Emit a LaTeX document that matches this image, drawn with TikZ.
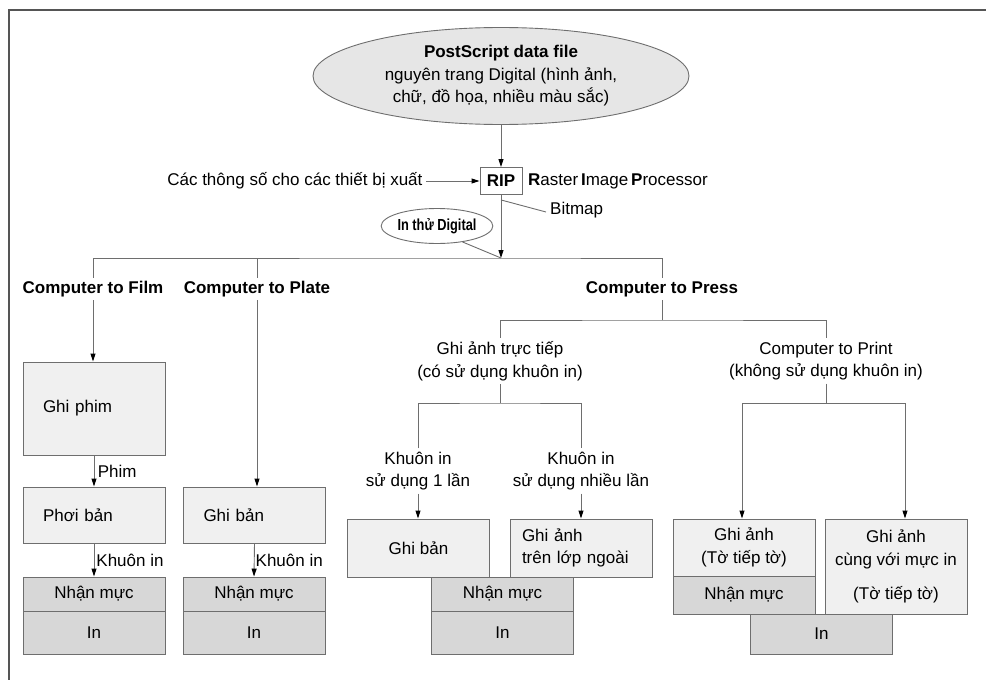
\documentclass[tikz,border=0pt]{standalone}
\usepackage{fontspec}
\setmainfont{Liberation Sans}
\newfontfamily\narrowsans{Liberation Sans}[FakeStretch=0.8]
\usetikzlibrary{arrows.meta,positioning,shapes.geometric}
\definecolor{framegray}{HTML}{555555}
\definecolor{linegray}{HTML}{6E6E6E}
\definecolor{lightfill}{HTML}{F0F0F0}
\definecolor{darkfill}{HTML}{D7D7D7}
\definecolor{ovalfill}{HTML}{E6E6E6}
\newcommand{\diagfont}{\fontsize{17}{22.5}\selectfont}

\tikzset{
  conn/.style={draw=linegray, line width=0.9pt},
  arr/.style={conn, -{Triangle[length=8pt,width=5pt,color=black]}},
  box/.style={draw=linegray, line width=0.9pt, fill=lightfill, minimum width=142pt, inner sep=0pt, align=center},
  lbox/.style={box, text width=102pt, inner xsep=20pt, align=left},
  inkbox/.style={box, fill=darkfill, minimum height=34pt},
  printbox/.style={box, fill=darkfill, minimum height=43pt},
  branch/.style={font=\diagfont\bfseries},
}

\begin{document}
\begin{tikzpicture}[x=1pt, y=-1pt, font=\diagfont]
\useasboundingbox (0,0) rectangle (986,680);
\draw[framegray, line width=2.5pt] (9,680) |- (986,10);

% source and RIP
\node[ellipse, draw=linegray, line width=0.9pt, fill=ovalfill, inner sep=0pt,
  minimum width=376pt, minimum height=97pt, align=center] (psfile) at (501,76)
  {\textbf{PostScript data file}\\nguyên trang Digital (hình ảnh,\\chữ, đồ họa, nhiều màu sắc)};
\node[draw=linegray, line width=0.9pt, fill=white, minimum width=42pt, minimum height=27pt,
  inner sep=0pt, branch] (rip) at (501,181) {RIP};
\node[anchor=west, inner sep=0pt] (rasterip) at (528,181)
  {\textbf{R}aster\,\textbf{I}mage\,\textbf{P}rocessor};
\node[anchor=east] (param) at (426,181) {Các thông số cho các thiết bị xuất};
\draw[arr] (psfile.south) -- (rip.north);
\draw[arr] (param.east) -- (rip.west);

\coordinate (split) at (501,258);
\draw[arr] (rip.south) -- (split);
\node[anchor=west, inner sep=0pt] (bitmap) at (550,210) {Bitmap};
\draw[conn] ([yshift=-5pt]rip.south) -- ([xshift=-4pt,yshift=-2pt]bitmap.west);
\node[ellipse, draw=linegray, line width=0.9pt, fill=white, inner sep=0pt,
  minimum width=90pt, minimum height=35pt, font=\narrowsans\fontsize{16}{20}\selectfont\bfseries]
  (proof) at (437,226) {In thử Digital};
\draw[conn] (proof.-32) -- (split);

% three routes
\node[branch] (film) at (93,289) {Computer to Film};
\node[branch] (plate) at (257,289) {Computer to Plate};
\node[branch] (press) at (662,289) {Computer to Press};
\draw[conn] (film.north) |- (split) -| (press.north);
\draw[conn] (plate.north) -- (plate.north |- split);

% computer to film
\node[lbox, minimum height=93pt] (ghiphim) at (94,408.5) {Ghi phim};
\node[lbox, minimum height=56pt] (phoiban) at (94,515) {Phơi bản};
\node[inkbox] (nhanmuc1) at (94,594) {Nhận mực};
\node[printbox] (in1) at (94,632.5) {In};
\draw[arr] (film.south) -- (film.south |- ghiphim.north);
\draw[arr] (ghiphim.south) -- node[right] {Phim} (phoiban.north);
\draw[arr] (phoiban.south) -- node[right, inner xsep=2pt] {Khuôn in} (nhanmuc1.north);

% computer to plate
\node[lbox, minimum height=56pt] (ghiban1) at (254.5,515) {Ghi bản};
\node[inkbox] (nhanmuc2) at (254,594) {Nhận mực};
\node[printbox] (in2) at (254,632.5) {In};
\draw[arr] (plate.south) -- (plate.south |- ghiban1.north);
\draw[arr] (ghiban1.south) -- node[right, inner xsep=1pt] {Khuôn in} (nhanmuc2.north);

% computer to press
\coordinate (pressjoin) at (662,320);
\node[align=center] (direct) at (500,361) {Ghi ảnh trực tiếp\\(có sử dụng khuôn in)};
\node[align=center] (ctprint) at (826,361) {Computer to Print\\(không sử dụng khuôn in)};
\draw[conn] (press.south) -- (pressjoin);
\draw[conn] (direct.north) |- (pressjoin) -| (ctprint.north);

\coordinate (directjoin) at (500,403);
\node[align=center] (once) at (418,471) {Khuôn in\\sử dụng 1 lần};
\node[align=center] (multi) at (581,471) {Khuôn in\\sử dụng nhiều lần};
\draw[conn] (direct.south) -- (directjoin);
\draw[conn] (once.north) |- (directjoin) -| (multi.north);
\node[box, minimum height=58pt] (ghiban2) at (418.5,548) {Ghi bản};
\node[box, minimum height=58pt, text width=118pt, inner xsep=12pt, align=left] (ghiout) at (581,548)
  {Ghi ảnh\\trên lớp ngoài};
\node[inkbox] (nhanmuc3) at (502.5,594) {Nhận mực};
\node[printbox] (in3) at (502.5,632.5) {In};
\draw[arr] (once.south) -- (once.south |- ghiban2.north);
\draw[arr] (multi.south) -- (multi.south |- ghiout.north);

\coordinate (printjoin) at (826,403);
\draw[conn] (ctprint.south) -- (printjoin);
\node[box, minimum height=57pt] (ghitt) at (744,547.5) {Ghi ảnh\\(Tờ tiếp tờ)};
\node[box, fill=darkfill, minimum height=38pt] (nhanmuc4) at (744,595) {Nhận mực};
\node[box, minimum height=95pt] (ghiink) at (896,566.5) {Ghi ảnh\\cùng với mực in\\[12pt](Tờ tiếp tờ)};
\node[box, fill=darkfill, minimum height=40pt] (in4) at (821.5,634) {In};
\draw[arr] (printjoin) -| ([xshift=-2pt]ghitt.north);
\draw[arr] (printjoin) -| ([xshift=9pt]ghiink.north);
\end{tikzpicture}
\end{document}
